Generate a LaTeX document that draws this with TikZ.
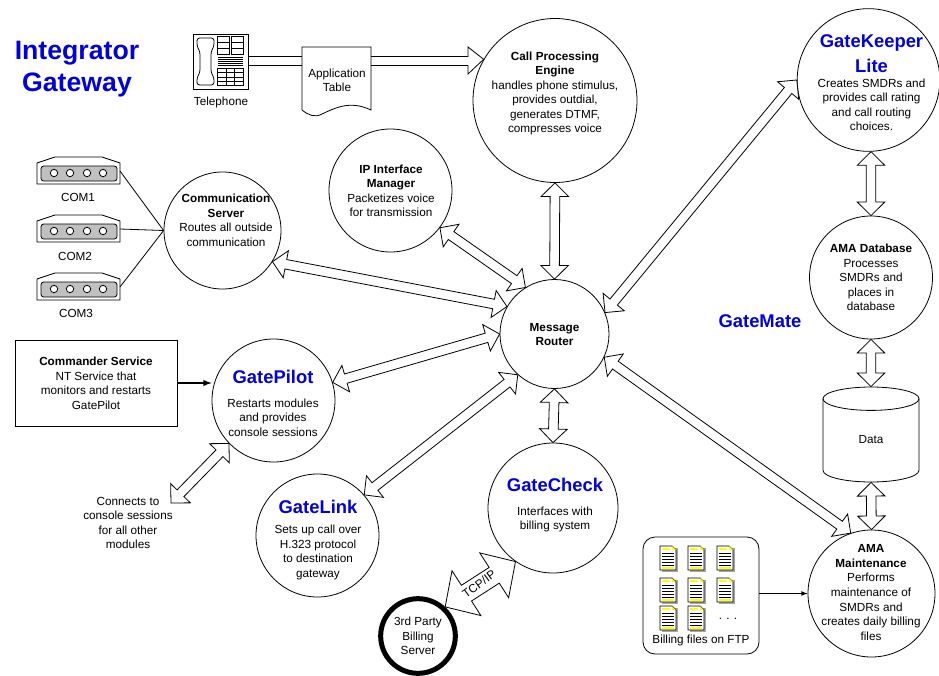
\documentclass[tikz,border=0pt]{standalone}
\usepackage{fontspec}
\setmainfont{Liberation Sans}
\usetikzlibrary{calc}
\definecolor{gateblue}{RGB}{0,0,225}
\definecolor{portgray}{RGB}{192,192,192}
\definecolor{pageyellow}{RGB}{255,255,0}

% block arrows, tip to tip
\def\headlen{10.2pt}
\def\headwid{10.3pt}
\def\shaftwid{3.6pt}
\newcommand{\blockarrow}[2]{%
  \path (#1) coordinate (ta) (#2) coordinate (tb);
  \coordinate (ha) at ($(ta)!\headlen!(tb)$);
  \coordinate (hb) at ($(tb)!\headlen!(ta)$);
  \draw [blockline] (ta) -- ($(ha)!\headwid!90:(tb)$) -- ($(ha)!\shaftwid!90:(tb)$)
    -- ($(hb)!\shaftwid!-90:(ta)$) -- ($(hb)!\headwid!-90:(ta)$) -- (tb)
    -- ($(hb)!\headwid!90:(ta)$) -- ($(hb)!\shaftwid!90:(ta)$)
    -- ($(ha)!\shaftwid!-90:(tb)$) -- ($(ha)!\headwid!-90:(tb)$) -- cycle;
}
\newcommand{\bluetitle}[1]{{\fontsize{13.8}{16}\selectfont\bfseries\color{gateblue}#1}}

\tikzset{
  comport/.pic={
    \draw [black,fill=white] (0,-6) -- (18,0) -- (65,0) -- (83,-6) -- (83,-27) -- (0,-27) -- cycle;
    \draw [black,fill=portgray,rounded corners=2pt] (4,-9) rectangle (80,-24);
    \foreach \hx in {17,33,50,66}
      \draw [black,fill=white] (\hx,-16) circle (3.7);
  },
  billfile/.pic={
    \fill [gray!70] (-6,10) rectangle (10,-14);
    \draw [black,fill=white] (-8,12) -- (4,12) -- (8,8) -- (8,-12) -- (-8,-12) -- cycle;
    \fill [pageyellow] (4,12) -- (8,8) -- (4,8) -- cycle;
    \draw [pageyellow,line width=1pt] (-6,9) -- (2,9) (-6,-10) -- (6,-10);
    \foreach \hy in {5,2,-1,-4,-7}
      \draw [black,line width=0.7pt] (-6,\hy) -- (6,\hy);
  }
}

\begin{document}
\begin{tikzpicture}[x=0.75pt,y=0.75pt,line width=0.6pt]
\tikzstyle{every node}+=[inner sep=0pt,align=center,font=\fontsize{8.8}{10.9}\selectfont]
\tikzstyle{bubble}=[draw=black,circle]
\tikzstyle{blockline}=[draw=black,fill=white,line join=miter]
\useasboundingbox (0,0) rectangle (939,-675);

% title and side labels
\node [font=\fontsize{20}{24}\selectfont\bfseries,text=gateblue] (title) at (77,-69) {Integrator\\Gateway};
\node (gatemate) at (760,-321) {\bluetitle{GateMate}};

% bubbles
\node [bubble,minimum size=123pt] (cpe) at (555,-100.5) {};
\node (cpetext) at (555,-93.5) {\textbf{Call Processing}\\\textbf{Engine}\\handles phone stimulus,\\provides outdial,\\generates DTMF,\\compresses voice};
\node [bubble,minimum size=107pt] (keeper) at (868.5,-80) {};
\node (keepertext) at (871.5,-83) {\bluetitle{GateKeeper}\\[4.7pt]\bluetitle{Lite}\\Creates SMDRs and\\provides call rating\\and call routing\\choices.};
\node [bubble,minimum size=92.25pt] (amadb) at (871,-277.5) {};
\node (amadbtext) at (871,-277.5) {\textbf{AMA Database}\\Processes\\SMDRs and\\places in\\database};
\node [bubble,minimum size=95.25pt] (maint) at (871.5,-593.5) {};
\node (mainttext) at (871,-592.5) {\textbf{AMA}\\\textbf{Maintenance}\\Performs\\maintenance of\\SMDRs and\\creates daily billing\\files};
\node [bubble,minimum size=81.75pt] (router) at (554.5,-334) {};
\node (routertext) at (554.5,-334.5) {\textbf{Message}\\\textbf{Router}};
\node [bubble,minimum size=97.5pt] (check) at (553,-508) {};
\node (checktext) at (555,-505) {\bluetitle{GateCheck}\\[7pt]Interfaces with\\billing system};
\node [bubble,minimum size=92.25pt] (link) at (317.5,-535.5) {};
\node (linktext) at (318,-540) {\bluetitle{GateLink}\\[4pt]Sets up call over\\H.323 protocol\\to destination\\gateway};
\node [bubble,minimum size=92.25pt] (pilot) at (273.5,-400.5) {};
\node (pilottext) at (273,-403) {\bluetitle{GatePilot}\\[7pt]Restarts modules\\and provides\\console sessions};
\node [bubble,minimum size=87.75pt] (comm) at (222.5,-230.5) {};
\node (commtext) at (226,-220.5) {\textbf{Communication}\\\textbf{Server}\\Routes all outside\\communication};
\node [bubble,minimum size=92.25pt] (ipman) at (390.5,-190.5) {};
\node (ipmantext) at (391,-191) {\textbf{IP Interface}\\\textbf{Manager}\\Packetizes voice\\for transmission};
\node [bubble,line width=3.75pt,minimum size=56pt] (billing) at (418,-636) {};
\node (billingtext) at (418,-636) {3rd Party\\Billing\\Server};

% data store
\node [minimum width=72pt,minimum height=71.25pt] (data) at (871,-434.5) {};
\draw [black,fill=white] (823,-398.7) -- (823,-470.3) arc (180:360:48 and 11.7) -- (919,-398.7) arc (0:180:48 and 11.7) -- cycle;
\draw [black] (823,-398.7) arc (180:360:48 and 11.7);
\node (datatext) at (871,-440) {Data};

% boxes
\node [draw=black,minimum width=121.5pt,minimum height=64pt] (commander) at (96,-383.5) {\textbf{Commander Service}\\NT Service that\\monitors and restarts\\GatePilot};
\node [draw=black,rounded corners=9pt,minimum width=87pt,minimum height=87.75pt] (billbox) at (701,-595.5) {};
\node (billtext) at (701,-640) {Billing files on FTP};
\foreach \hx/\hy in {668/558,696/558,725/558,668/590,696/590,725/590,668/618,696/618}
  \pic at (\hx,-\hy) {billfile};
\node (moredots) at (728,-619) {. . .};

% block arrows
\blockarrow{cpe.south}{router.north}
\blockarrow{router.23}{keeper.west}
\blockarrow{keeper.272}{amadb.north}
\blockarrow{amadb.south}{data.north}
\blockarrow{data.south}{maint.north}
\blockarrow{router.-25}{maint.109}
\blockarrow{router.122}{ipman.-37}
\blockarrow{router.150}{comm.-32}
\blockarrow{router.west}{pilot.17}
\blockarrow{router.228}{link.41}
\blockarrow{router.south}{check.north}
\coordinate (consolend) at (171,-503);
\blockarrow{pilot.224}{consolend}
\node (console) at (128,-523) {Connects to\\console sessions\\for all other\\modules};

% TCP/IP link
\begin{scope}
\def\headlen{19pt}
\def\headwid{20pt}
\def\shaftwid{7pt}
\blockarrow{check.235}{billing.47}
\end{scope}
\node [rotate=36] (tcpip) at (479,-584) {TCP/IP};

% telephone line, one head only
\draw [blockline] (240,-56.5) -- (468,-56.5) -- (468,-47) -- (cpe.150.6) -- (468,-74) -- (468,-65.5) -- (240,-65.5) -- cycle;

% application table
\draw [black,fill=white] (302,-47) -- (371,-47) -- (371,-110) .. controls (350,-100) and (335,-108) .. (322,-114) .. controls (315,-118) and (308,-115) .. (302,-110) -- cycle;
\node (apptable) at (337,-80.5) {Application\\Table};

% telephone
\node [draw=black,fill=white,minimum width=41.25pt,minimum height=41.25pt] (phone) at (220.5,-61.5) {};
\draw [black,rounded corners=2pt] (197,-38) -- (214,-38) -- (214,-46) -- (211,-52) -- (211,-72) -- (214,-78) -- (214,-85) -- (197,-85) -- (197,-78) -- (200,-72) -- (200,-52) -- (197,-46) -- cycle;
\foreach \hx in {217.7,231.7}
  \draw [black] (\hx,-36.7) rectangle (\hx+11.6,-54.3);
\foreach \hy in {-42.6,-48.4}
  \draw [black] (217.7,\hy) -- (229.3,\hy) (231.7,\hy) -- (243.3,\hy);
\foreach \hy in {57.7,59.5,61.3,63.1,65}
  \draw [black,line width=0.4pt] (217.7,-\hy) -- (243.3,-\hy);
\draw [black] (217.7,-68.3) rectangle (243.3,-85.7);
\foreach \hx in {226.2,234.8}
  \draw [black] (\hx,-68.3) -- (\hx,-85.7);
\foreach \hy in {72.7,77,81.4}
  \draw [black] (217.7,-\hy) -- (243.3,-\hy);
\node (phonetext) at (221,-102) {Telephone};

% com ports
\foreach \pname/\ptop/\ptext in {com1/157/COM1,com2/215/COM2,com3/273/COM3}{
  \pic at (37,-\ptop) {comport};
  \coordinate (\pname) at (120,-\ptop-14);
}
\node (com1text) at (78,-197) {COM1};
\node (com2text) at (75,-256) {COM2};
\node (com3text) at (76,-313) {COM3};
\draw [black] (com1) -- (comm.west);
\draw [black] (com2) -- (comm.west);
\draw [black] (com3) -- (comm.west);

% plain arrows
\draw [black,line width=1.1pt,-latex] (commander.east |- 0,-383) -- (pilot.west |- 0,-383);
\draw [black,-latex] (billbox.east |- maint.west) -- (maint.west);
\end{tikzpicture}
\end{document}
